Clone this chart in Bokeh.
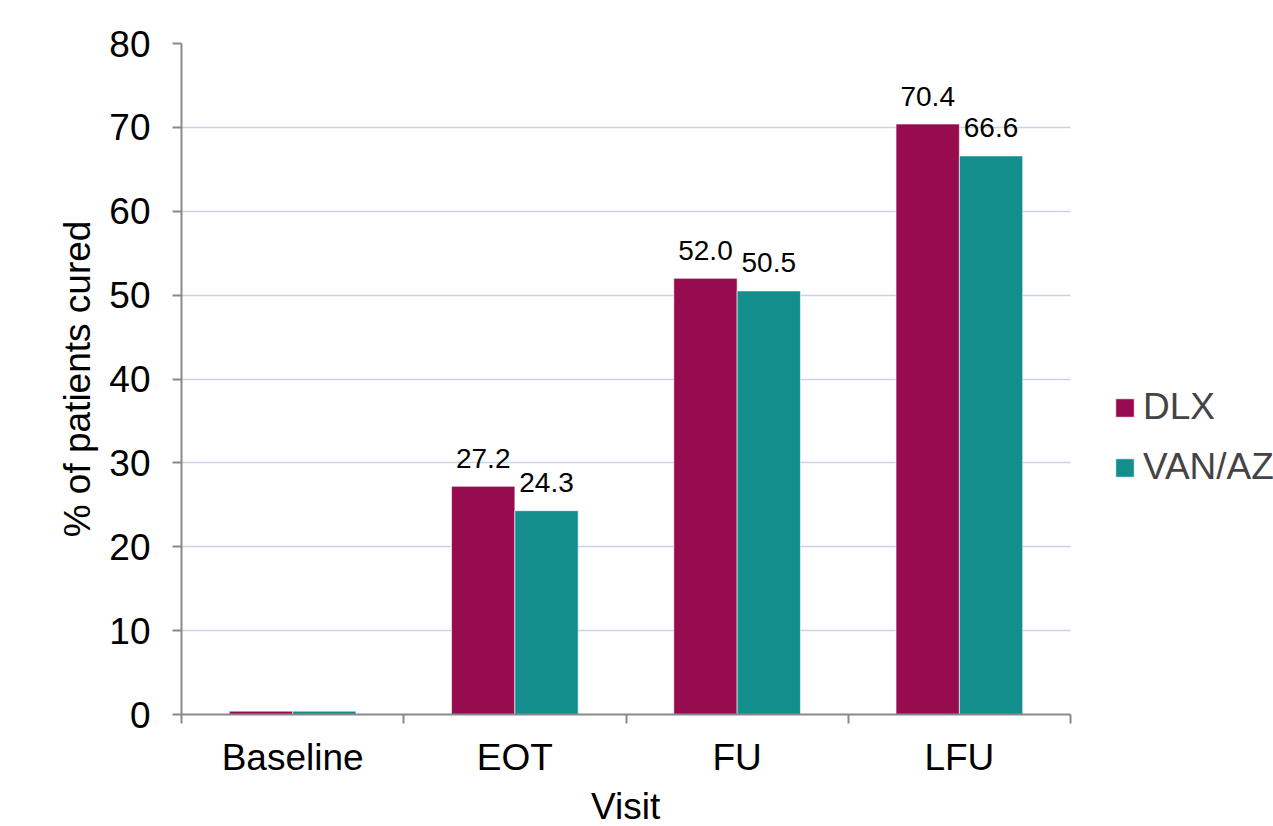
import numpy as np
from bokeh.plotting import figure
from bokeh.models import (ColumnDataSource, FixedTicker, Legend, LegendItem, Range1d,
                          BoxAnnotation, Title)
from bokeh.transform import dodge
from bokeh.core.properties import value
from bokeh.embed import file_html
from bokeh.resources import INLINE

visits = ["Baseline", "EOT", "FU", "LFU"]
dlx = [0.4, 27.2, 52.0, 70.4]
van = [0.4, 24.3, 50.5, 66.6]
dlx_labels = ["", "27.2", "52.0", "70.4"]
van_labels = ["", "24.3", "50.5", "66.6"]

DLX_C = "#960C4E"
VAN_C = "#138E8C"
FONT = "Liberation Sans"
AXIS_C = "#898989"

n = len(visits)
pos = np.arange(n) + 0.5
src = ColumnDataSource(dict(x=pos, dlx=dlx, van=van, dl=dlx_labels, vl=van_labels))

# frame spans to the right edge; the data area (0..n) ends where the reference's plot ends
FRAME_W = 1273 - 181
DATA_W = 889
x_end = n * FRAME_W / DATA_W

p = figure(frame_width=FRAME_W, frame_height=671, output_backend="svg", toolbar_location=None,
           x_range=Range1d(0, x_end), y_range=Range1d(0, 80),
           min_border_left=181, min_border_right=0, min_border_top=43, min_border_bottom=112)
p.outline_line_color = None
p.background_fill_color = "white"

bw = 0.285
r1 = p.vbar(x=dodge("x", -bw / 2, range=p.x_range), top="dlx", width=bw, source=src,
            fill_color=DLX_C, line_color="white", line_width=0.6)
r2 = p.vbar(x=dodge("x", bw / 2, range=p.x_range), top="van", width=bw, source=src,
            fill_color=VAN_C, line_color="white", line_width=0.6)

p.text(x=dodge("x", -bw / 2, range=p.x_range), y="dlx", text="dl", source=src,
       text_font=value(FONT), text_font_size="28px", text_align="center",
       text_baseline="alphabetic", y_offset=-28, text_color="black")
p.text(x=dodge("x", bw / 2, range=p.x_range), y="van", text="vl", source=src,
       text_font=value(FONT), text_font_size="28px", text_align="center",
       text_baseline="alphabetic", y_offset=-28, text_color="black")

# white mask so the horizontal grid stops where the data area ends
p.add_layout(BoxAnnotation(left=n, fill_color="white", fill_alpha=1.0,
                           line_color=None, level="underlay"))

# axes
p.xaxis.ticker = FixedTicker(ticks=list(pos), minor_ticks=list(range(0, n + 1)))
p.xaxis.major_label_overrides = {float(v): s for v, s in zip(pos, visits)}
p.xaxis.bounds = (-0.05, n)
p.xaxis.major_tick_out = 0
p.xaxis.major_tick_in = 0
p.xaxis.minor_tick_out = 9
p.xaxis.minor_tick_in = 0
p.xaxis.minor_tick_line_color = AXIS_C
p.xaxis.minor_tick_line_width = 2
p.xaxis.major_label_standoff = 13

p.yaxis.ticker = FixedTicker(ticks=list(range(0, 81, 10)))
p.yaxis.major_tick_out = 9
p.yaxis.major_tick_in = 0
p.yaxis.minor_tick_line_color = None
p.yaxis.axis_label = "% of patients cured"
p.yaxis.major_label_standoff = 22
p.yaxis.axis_label_standoff = 8

for ax in (p.xaxis[0], p.yaxis[0]):
    ax.axis_line_color = AXIS_C
    ax.axis_line_width = 2
    ax.major_tick_line_color = AXIS_C
    ax.major_tick_line_width = 2
    ax.major_label_text_font = FONT
    ax.major_label_text_font_size = "37px"
    ax.major_label_text_color = "black"
    ax.axis_label_text_font = FONT
    ax.axis_label_text_font_size = "37px"
    ax.axis_label_text_font_style = "normal"
    ax.axis_label_text_color = "black"

# x axis title, centred under the data area (0..n)
x_title = Title(text="Visit", align="left", offset=DATA_W / 2 - 35, standoff=6,
                text_font=FONT, text_font_size="37px", text_font_style="normal",
                text_color="black")
p.add_layout(x_title, "below")

p.xgrid.grid_line_color = None
p.ygrid.grid_line_color = "#C8D4E4"
p.ygrid.grid_line_width = 1.5

legend = Legend(items=[LegendItem(label="DLX", renderers=[r1]),
                       LegendItem(label="VAN/AZ", renderers=[r2])],
                location=(932, 226), orientation="vertical",
                label_text_font=FONT, label_text_font_size="37px",
                glyph_width=23, glyph_height=23, label_height=40, label_standoff=7,
                spacing=18, padding=0, margin=0, border_line_color=None,
                background_fill_alpha=0)
p.add_layout(legend, "center")

open("out.html", "w").write(file_html(p, INLINE))
